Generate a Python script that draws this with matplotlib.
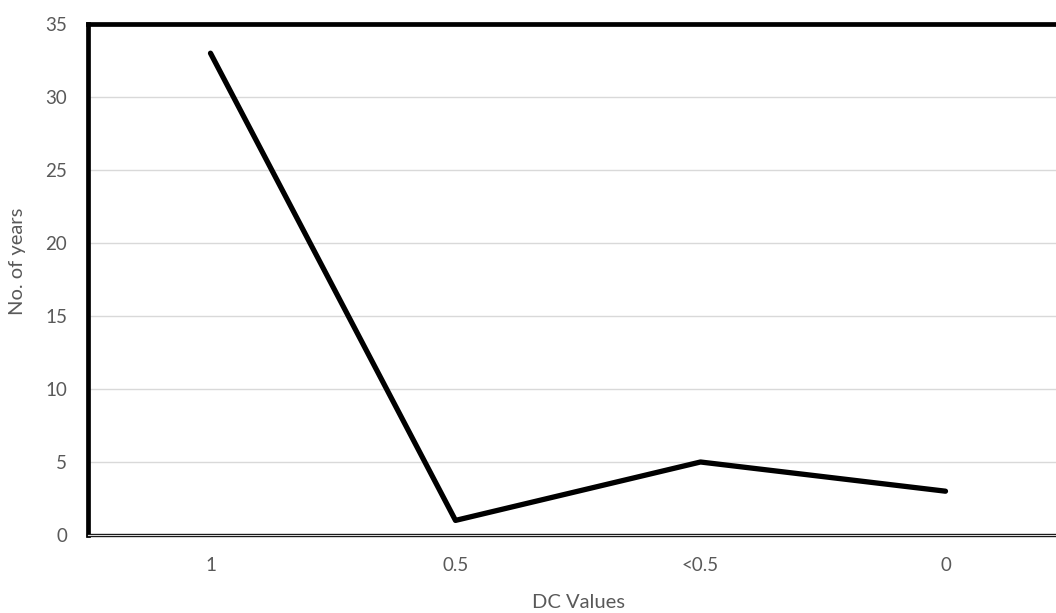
import matplotlib as mpl
mpl.use('Agg')
from matplotlib import pyplot as plt

## Data
categories = ['1', '0.5', '<0.5', '0']
years = [33, 1, 5, 3]
yticks = [0, 5, 10, 15, 20, 25, 30, 35]

TXT = '#595959'
GRID = '#d9d9d9'


def main():
    plt.rcParams['font.family'] = ['Lato', 'DejaVu Sans']

    fig = plt.figure(figsize=(10.56, 6.13), dpi=100)
    # plot area runs past the right edge of the figure, as in the reference
    ax = fig.add_axes([88 / 1056, 78 / 613, 980 / 1056, 511 / 613])

    xs = list(range(len(categories)))
    ax.plot(xs, years, color='black', lw=3.8, solid_capstyle='round',
            solid_joinstyle='round', zorder=3)

    ax.set_xlim(-0.5, len(categories) - 0.5)
    ax.set_ylim(0, 35)
    ax.set_yticks(yticks)
    ax.set_xticks(xs)
    ax.set_xticklabels(categories)

    ax.grid(axis='y', color=GRID, lw=1.0)
    ax.set_axisbelow(True)
    ax.tick_params(length=0, labelsize=13.5, colors=TXT)
    ax.tick_params(axis='y', pad=15)
    ax.tick_params(axis='x', pad=16)

    for side in ['left', 'top', 'right']:
        ax.spines[side].set_linewidth(3.4)
        ax.spines[side].set_color('black')
        ax.spines[side].set_capstyle('projecting')
    ax.spines['bottom'].set_linewidth(2.4)
    ax.spines['bottom'].set_color('black')
    ax.axhline(0, color=GRID, lw=0.9, clip_on=False, zorder=5)

    fig.text(578 / 1056, 1 - 602 / 613, 'DC Values', ha='center', va='center',
             fontsize=14.5, color=TXT)
    fig.text(18 / 1056, 1 - 261 / 613, 'No. of years', ha='center', va='center',
             rotation=90, fontsize=14.5, color=TXT)

    fig.savefig('out.png', dpi=100)


if __name__ == '__main__':
    main()
